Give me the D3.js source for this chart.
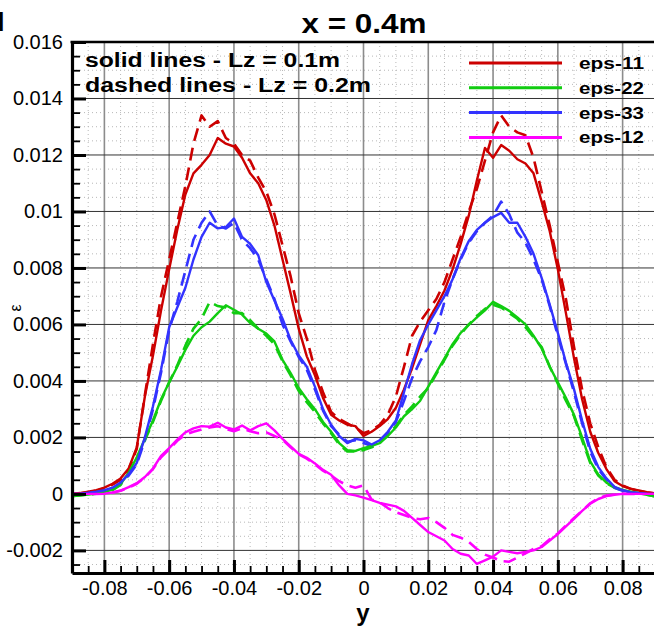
<!DOCTYPE html>
<html><head><meta charset="utf-8">
<script src="https://cdn.jsdelivr.net/npm/d3@7"></script>
<style>
html,body{margin:0;padding:0;background:#fff;}
svg{display:block;font-family:"Liberation Sans",Arial,Helvetica,sans-serif;}
</style></head>
<body>
<svg id="chart" width="654" height="627"></svg>
<script>
// ---------------- DATA ----------------
const xs = d3.range(73).map(i => +(-0.09 + i*0.0025).toFixed(4));

const eps11_Lz01 = [0,0.00003,0.00008,0.00013,0.00022,0.00036,0.00055,0.00090,0.00165,0.00345,
0.00490,0.00650,0.00795,0.00935,0.01060,0.01135,0.01165,0.01200,0.01260,0.01240,
0.01230,0.01190,0.01135,0.01100,0.01040,0.00950,0.00830,0.00710,0.00585,0.00487,
0.00420,0.00340,0.00280,0.00260,0.00245,0.00240,0.00205,0.00220,0.00240,0.00265,
0.00305,0.00370,0.00445,0.00530,0.00615,0.00665,0.00720,0.00795,0.00885,0.00985,
0.01110,0.01225,0.01190,0.01235,0.01215,0.01185,0.01170,0.01135,0.01035,0.00930,
0.00795,0.00640,0.00480,0.00335,0.00220,0.00145,0.00088,0.00045,0.00028,0.00018,
0.00012,0.00006,0.00002];

const eps11_Lz02 = [0,0.00002,0.00006,0.00011,0.00020,0.00033,0.00050,0.00085,0.00160,0.00350,
0.00530,0.00700,0.00830,0.00960,0.01090,0.01240,0.01340,0.01300,0.01320,0.01260,
0.01240,0.01200,0.01180,0.01120,0.01070,0.00990,0.00880,0.00770,0.00640,0.00550,
0.00440,0.00360,0.00290,0.00265,0.00250,0.00235,0.00215,0.00225,0.00245,0.00280,
0.00345,0.00450,0.00560,0.00610,0.00650,0.00690,0.00750,0.00830,0.00910,0.01000,
0.01080,0.01180,0.01280,0.01340,0.01300,0.01280,0.01270,0.01190,0.01070,0.00950,
0.00820,0.00690,0.00520,0.00370,0.00250,0.00165,0.00095,0.00050,0.00030,0.00018,
0.00011,0.00005,0.00002];

const eps22_Lz01 = [-0.00008,-0.00006,-0.00002,0.00001,0.00006,0.00015,0.00035,0.00075,0.00130,0.00195,
0.00260,0.00335,0.00395,0.00450,0.00510,0.00560,0.00590,0.00610,0.00640,0.00668,
0.00652,0.00635,0.00605,0.00585,0.00568,0.00540,0.00475,0.00428,0.00375,0.00335,
0.00300,0.00255,0.00220,0.00180,0.00155,0.00152,0.00162,0.00170,0.00180,0.00205,
0.00235,0.00275,0.00300,0.00330,0.00380,0.00430,0.00480,0.00530,0.00570,0.00598,
0.00625,0.00650,0.00680,0.00665,0.00648,0.00625,0.00600,0.00560,0.00515,0.00450,
0.00395,0.00340,0.00280,0.00200,0.00115,0.00068,0.00040,0.00024,0.00014,0.00008,
0.00003,-0.00003,-0.00009];

const eps22_Lz02 = [-0.00008,-0.00005,-0.00002,0.00001,0.00005,0.00013,0.00032,0.00070,0.00125,0.00190,
0.00255,0.00330,0.00395,0.00455,0.00525,0.00585,0.00620,0.00680,0.00665,0.00660,
0.00640,0.00640,0.00615,0.00585,0.00560,0.00530,0.00470,0.00420,0.00365,0.00325,
0.00290,0.00250,0.00215,0.00175,0.00150,0.00150,0.00155,0.00165,0.00180,0.00210,
0.00240,0.00280,0.00310,0.00345,0.00375,0.00425,0.00475,0.00525,0.00565,0.00600,
0.00630,0.00655,0.00670,0.00660,0.00640,0.00620,0.00590,0.00555,0.00520,0.00450,
0.00390,0.00330,0.00275,0.00190,0.00110,0.00065,0.00038,0.00022,0.00012,0.00006,
0.00002,-0.00003,-0.00009];

const eps33_Lz01 = [0,0.00001,0.00004,0.00008,0.00013,0.00022,0.00040,0.00070,0.00110,0.00200,
0.00310,0.00440,0.00590,0.00660,0.00730,0.00830,0.00910,0.00960,0.00940,0.00945,
0.00975,0.00910,0.00885,0.00845,0.00750,0.00685,0.00620,0.00545,0.00490,0.00450,
0.00380,0.00300,0.00245,0.00205,0.00180,0.00195,0.00190,0.00175,0.00190,0.00220,
0.00260,0.00360,0.00460,0.00545,0.00600,0.00650,0.00700,0.00760,0.00835,0.00895,
0.00935,0.00960,0.00980,0.00995,0.00960,0.00960,0.00910,0.00850,0.00765,0.00670,
0.00570,0.00465,0.00370,0.00260,0.00160,0.00095,0.00055,0.00025,0.00013,0.00006,
0.00003,0.00001,0];

const eps33_Lz02 = [0,0.00001,0.00003,0.00007,0.00012,0.00020,0.00036,0.00065,0.00105,0.00190,
0.00300,0.00430,0.00580,0.00680,0.00790,0.00900,0.00960,0.01000,0.00950,0.00940,
0.00960,0.00900,0.00870,0.00830,0.00760,0.00690,0.00600,0.00540,0.00485,0.00440,
0.00370,0.00295,0.00240,0.00210,0.00185,0.00190,0.00180,0.00170,0.00185,0.00215,
0.00255,0.00330,0.00410,0.00470,0.00520,0.00580,0.00680,0.00760,0.00830,0.00890,
0.00930,0.00960,0.00985,0.01035,0.00990,0.00925,0.00890,0.00830,0.00760,0.00665,
0.00560,0.00460,0.00360,0.00250,0.00150,0.00088,0.00050,0.00022,0.00011,0.00005,
0.00002,0.00001,0];

const eps12_Lz01 = [0,0,0,0,0.00001,0.00005,0.00012,0.00024,0.00038,0.00060,
0.00090,0.00135,0.00162,0.00192,0.00218,0.00232,0.00240,0.00238,0.00252,0.00235,
0.00228,0.00242,0.00225,0.00240,0.00250,0.00225,0.00195,0.00168,0.00142,0.00128,
0.00108,0.00085,0.00068,0.00030,0.00000,-0.00005,-0.00013,-0.00022,-0.00032,-0.00038,
-0.00044,-0.00060,-0.00085,-0.00110,-0.00135,-0.00150,-0.00165,-0.00195,-0.00212,-0.00218,
-0.00248,-0.00235,-0.00222,-0.00200,-0.00205,-0.00210,-0.00205,-0.00200,-0.00188,-0.00165,
-0.00142,-0.00115,-0.00088,-0.00060,-0.00035,-0.00018,-0.00008,-0.00003,0,0,
0,0,0];

const eps12_Lz02 = [0,0,0,0,0.00001,0.00004,0.00011,0.00022,0.00036,0.00058,
0.00088,0.00130,0.00158,0.00188,0.00210,0.00220,0.00228,0.00235,0.00240,0.00230,
0.00222,0.00232,0.00222,0.00215,0.00218,0.00205,0.00192,0.00165,0.00140,0.00125,
0.00105,0.00082,0.00065,0.00045,0.00030,0.00022,0.00030,-0.00020,-0.00030,-0.00050,
-0.00065,-0.00075,-0.00085,-0.00090,-0.00085,-0.00100,-0.00120,-0.00145,-0.00155,-0.00170,
-0.00195,-0.00215,-0.00225,-0.00238,-0.00240,-0.00225,-0.00210,-0.00195,-0.00185,-0.00160,
-0.00140,-0.00112,-0.00085,-0.00060,-0.00033,-0.00015,-0.00006,-0.00002,0,0,
0,0,0];

const seriesNames = ["eps-11","eps-22","eps-33","eps-12"];
const seriesColors = ["#cc0000","#11cc11","#3333ff","#ff00ff"];
const solidSeries = [eps11_Lz01, eps22_Lz01, eps33_Lz01, eps12_Lz01];
const dashedSeries = [eps11_Lz02, eps22_Lz02, eps33_Lz02, eps12_Lz02];

const xMajorTicks = [-0.08,-0.06,-0.04,-0.02,0,0.02,0.04,0.06,0.08];
const xTickLabels = ["-0.08","-0.06","-0.04","-0.02","0","0.02","0.04","0.06","0.08"];
const yMajorTicks = [-0.002,0,0.002,0.004,0.006,0.008,0.01,0.012,0.014,0.016];
const yTickLabels = ["-0.002","0","0.002","0.004","0.006","0.008","0.01","0.012","0.014","0.016"];
const xMinorTicks = d3.range(37).map(i => +(-0.09 + i*0.005).toFixed(4));
const yMinorTicks = d3.range(38).map(i => +(-0.0025 + i*0.0005).toFixed(5));

const titleText = "x = 0.4m";
const noteLines = ["solid lines - Lz = 0.1m", "dashed lines - Lz = 0.2m"];
const xLabel = "y";
const yLabel = "ε";

// ---------------- CHART ----------------
const svg = d3.select("#chart");
const L = 72, R = 655, T = 42, B = 573;
const x = d3.scaleLinear().domain([-0.09, 0.09]).range([L, R]);
const y = d3.scaleLinear().domain([-0.0028, 0.016]).range([B, T]);

svg.append("defs").append("clipPath").attr("id","clip")
  .append("rect").attr("x",L).attr("y",T).attr("width",R-L).attr("height",B-T);

// minor dotted grid
const g = svg.append("g");
g.selectAll(".vmin").data(xMinorTicks.filter(v => !xMajorTicks.some(m => Math.abs(m-v)<1e-6))).enter()
  .append("line").attr("x1",d=>x(d)).attr("x2",d=>x(d)).attr("y1",T).attr("y2",B)
  .attr("stroke","#b8b8b8").attr("stroke-width",1).attr("stroke-dasharray","1,3");
g.selectAll(".hmin").data(yMinorTicks.filter(v => !yMajorTicks.some(m => Math.abs(m-v)<1e-7) && y(v) > T && y(v) < B)).enter()
  .append("line").attr("y1",d=>y(d)).attr("y2",d=>y(d)).attr("x1",L).attr("x2",R)
  .attr("stroke","#b8b8b8").attr("stroke-width",1).attr("stroke-dasharray","1,3");
// major grid
g.selectAll(".vmaj").data(xMajorTicks).enter()
  .append("line").attr("x1",d=>x(d)).attr("x2",d=>x(d)).attr("y1",T).attr("y2",B)
  .attr("stroke","#8c8c8c").attr("stroke-width",1.6);
g.selectAll(".hmaj").data(yMajorTicks).enter()
  .append("line").attr("y1",d=>y(d)).attr("y2",d=>y(d)).attr("x1",L).attr("x2",R)
  .attr("stroke","#333").attr("stroke-width",1);

// curves
const line = d3.line().x((d,i)=>x(xs[i])).y(d=>y(d)).curve(d3.curveLinear);
const curves = svg.append("g").attr("clip-path","url(#clip)");
dashedSeries.forEach((s,k) => {
  curves.append("path").attr("d", line(s)).attr("fill","none")
    .attr("stroke", seriesColors[k]).attr("stroke-width",2.6)
    .attr("stroke-dasharray","13,7").attr("stroke-linejoin","round");
});
solidSeries.forEach((s,k) => {
  curves.append("path").attr("d", line(s)).attr("fill","none")
    .attr("stroke", seriesColors[k]).attr("stroke-width",2.4)
    .attr("stroke-linejoin","round");
});

// axes
const fmtX = d => xTickLabels[xMajorTicks.indexOf(d)];
const fmtY = d => yTickLabels[yMajorTicks.indexOf(d)];
const ax = svg.append("g").attr("transform",`translate(0,${B})`)
  .call(d3.axisBottom(x).tickValues(xMajorTicks).tickFormat(fmtX).tickSize(-13).tickSizeOuter(0).tickPadding(8));
ax.select(".domain").attr("stroke-width",3.2);
ax.selectAll(".tick line").attr("stroke-width",3);
ax.selectAll(".tick text").attr("font-size",20).attr("fill","#000").attr("font-family","Liberation Sans, Arial, sans-serif");
const axm = svg.append("g").attr("transform",`translate(0,${B})`)
  .call(d3.axisBottom(x).tickValues(xMinorTicks.filter(v=>x(v)>L+1 && x(v)<R-1)).tickFormat("").tickSize(-7).tickSizeOuter(0));
axm.select(".domain").remove();
axm.selectAll(".tick line").attr("stroke-width",1.8);

const ay = svg.append("g").attr("transform",`translate(${L},0)`)
  .call(d3.axisLeft(y).tickValues(yMajorTicks).tickFormat(fmtY).tickSize(-14).tickSizeOuter(0).tickPadding(9));
ay.select(".domain").attr("stroke-width",3.2);
ay.selectAll(".tick line").attr("stroke-width",3);
ay.selectAll(".tick text").attr("font-size",20).attr("fill","#000").attr("font-family","Liberation Sans, Arial, sans-serif");
const aym = svg.append("g").attr("transform",`translate(${L},0)`)
  .call(d3.axisLeft(y).tickValues(yMinorTicks.filter(v=>!yMajorTicks.some(m=>Math.abs(m-v)<1e-7) && y(v)>T+1 && y(v)<B-1)).tickFormat("").tickSize(-8).tickSizeOuter(0));
aym.select(".domain").remove();
aym.selectAll(".tick line").attr("stroke-width",1.8);

// top frame
svg.append("line").attr("x1",L-1.5).attr("x2",654).attr("y1",T).attr("y2",T)
  .attr("stroke","#000").attr("stroke-width",2.4);

// title & labels
svg.append("text").attr("x",364).attr("y",33).attr("text-anchor","middle")
  .attr("font-size",27).attr("font-weight","bold").attr("textLength",125).attr("lengthAdjust","spacingAndGlyphs")
  .text(titleText);
svg.append("text").attr("x",-3).attr("y",31).attr("font-size",27).attr("font-weight","bold").text("I");
svg.append("text").attr("x",363).attr("y",621).attr("text-anchor","middle")
  .attr("font-size",24).attr("font-weight","bold").text(xLabel);
svg.append("text").attr("transform","translate(21,308) rotate(-90)").attr("text-anchor","middle")
  .attr("font-size",16).text(yLabel);

// note
const noteW = [255, 286];
noteLines.forEach((t,i) => {
  svg.append("text").attr("x",85).attr("y",67 + i*25).attr("font-size",20).attr("font-weight","bold")
    .attr("textLength",noteW[i]).attr("lengthAdjust","spacingAndGlyphs").text(t);
});

// legend
const lg = svg.append("g");
seriesNames.forEach((n,i) => {
  const yy = 63 + i*24.8;
  lg.append("line").attr("x1",469).attr("x2",562).attr("y1",yy).attr("y2",yy)
    .attr("stroke",seriesColors[i]).attr("stroke-width",3);
  lg.append("text").attr("x",579).attr("y",yy+6).attr("font-size",17).attr("font-weight","bold")
    .attr("textLength",65).attr("lengthAdjust","spacingAndGlyphs").text(n);
});
</script>
</body></html>
